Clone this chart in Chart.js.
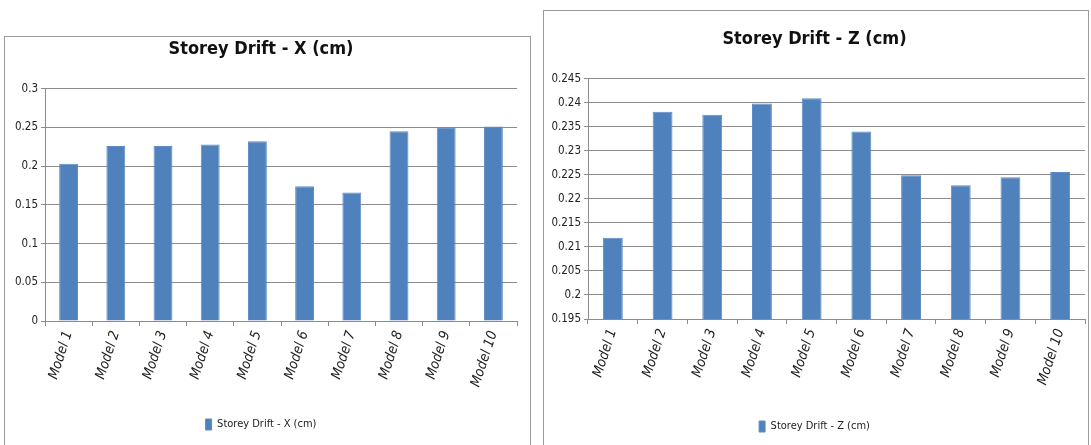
<!DOCTYPE html>
<html>
<head>
<meta charset="utf-8">
<script src="https://cdn.jsdelivr.net/npm/chart.js@4/dist/chart.umd.min.js"></script>
<style>
  body { margin: 0; background: #fff; width: 1091px; height: 445px; overflow: hidden; position: relative; }
  .frame { position: absolute; border: 1px solid #9a9a9a; box-sizing: border-box; background: #fff; }
  #frameX { left: 4px; top: 36px; width: 527px; height: 420px; }
  #frameZ { left: 543px; top: 10px; width: 546px; height: 446px; }
  canvas { position: absolute; }
  #chartX { left: 5px; top: 37px; }
  #chartZ { left: 544px; top: 11px; }
</style>
</head>
<body>
<div class="frame" id="frameX"></div>
<div class="frame" id="frameZ"></div>
<canvas id="chartX" width="525" height="408"></canvas>
<canvas id="chartZ" width="547" height="434"></canvas>
<script>
const models = ['Model 1', 'Model 2', 'Model 3', 'Model 4', 'Model 5', 'Model 6', 'Model 7', 'Model 8', 'Model 9', 'Model 10']

// storey drift values
const driftX = [0.203, 0.226, 0.226, 0.228, 0.232, 0.174, 0.166, 0.245, 0.250, 0.251]
const driftZ = [0.2119, 0.2381, 0.2375, 0.2398, 0.2409, 0.2340, 0.2249, 0.2228, 0.2245, 0.2256]

const ticksX = [0, 0.05, 0.1, 0.15, 0.2, 0.25, 0.3]
const ticksZ = [0.195, 0.2, 0.205, 0.21, 0.215, 0.22, 0.225, 0.23, 0.235, 0.24, 0.245]

const font = "'DejaVu Sans Condensed', 'Liberation Sans Narrow', 'Liberation Sans', sans-serif"
const barColor = '#4f81bd'

const makeChart = (id, title, label, data, yTicks, box) => {
  const step = yTicks[1] - yTicks[0]
  return new Chart(document.getElementById(id), {
    type: 'bar',
    data: {
      labels: models,
      datasets: [{
        label: label,
        data: data,
        backgroundColor: barColor,
        borderColor: '#5f8cc4',
        borderWidth: 1,
        categoryPercentage: 1,
        barPercentage: 0.4
      }]
    },
    options: {
      responsive: false,
      animation: false,
      layout: { padding: { left: 0, right: box.right, top: 0, bottom: box.bottom } },
      scales: {
        x: {
          grid: { display: true, drawOnChartArea: false, drawTicks: true, tickLength: 5, color: '#8c8c8c', offset: true },
          border: { color: '#8c8c8c' },
          ticks: {
            minRotation: 72, maxRotation: 72, color: '#222',
            font: { family: font, size: 14, style: 'italic' }
          },
          afterFit: (scale) => { scale.height = box.xHeight }
        },
        y: {
          min: yTicks[0],
          max: yTicks[yTicks.length - 1],
          afterBuildTicks: (scale) => { scale.ticks = yTicks.map(v => ({ value: v })) },
          grid: { color: '#8c8c8c', tickLength: 4, lineWidth: 1 },
          border: { color: '#8c8c8c' },
          ticks: {
            stepSize: step,
            color: '#222',
            font: { family: font, size: 11.5 },
            callback: (v) => Number(v.toFixed(3)).toString()
          },
          afterFit: (scale) => { scale.width = box.yWidth }
        }
      },
      plugins: {
        title: {
          display: true,
          text: title,
          color: '#111',
          font: { family: font, size: 18, weight: 'bold' },
          padding: { top: box.titleTop, bottom: box.titleBottom }
        },
        legend: {
          display: true,
          position: 'bottom',
          labels: {
            color: '#222',
            boxWidth: 6,
            boxHeight: 11,
            font: { family: font, size: 11 },
            padding: 10
          }
        },
        tooltip: { enabled: false }
      }
    }
  })
}

makeChart('chartX', 'Storey Drift - X (cm)', 'Storey Drift - X (cm)', driftX, ticksX,
  { right: 13, bottom: 5, xHeight: 88, yWidth: 40, titleTop: 2, titleBottom: 28 })
makeChart('chartZ', 'Storey Drift - Z (cm)', 'Storey Drift - Z (cm)', driftZ, ticksZ,
  { right: 6, bottom: 3, xHeight: 92, yWidth: 44, titleTop: 18, titleBottom: 28 })
</script>
</body>
</html>
